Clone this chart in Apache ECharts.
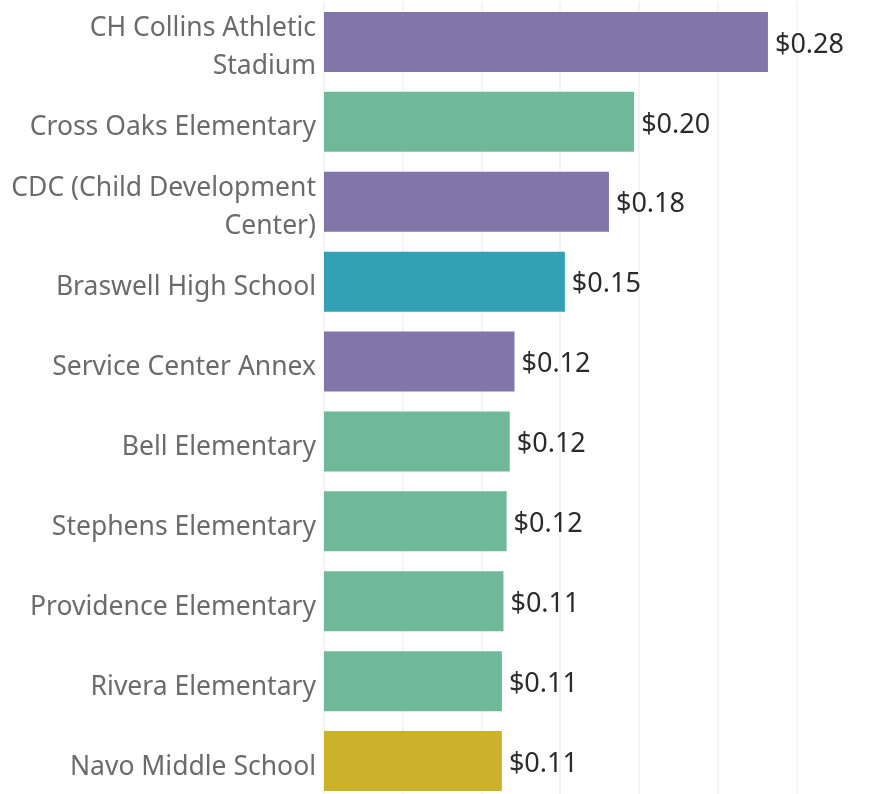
<!DOCTYPE html>
<html>
<head>
<meta charset="utf-8">
<script src="https://cdn.jsdelivr.net/npm/echarts@6/dist/echarts.min.js"></script>
<style>
  html, body { margin: 0; padding: 0; background: #fff; }
  #chart { width: 869px; height: 794px; }
</style>
</head>
<body>
<div id="chart"></div>
<script>
// facility names (top to bottom)
const facilities = [
  "CH Collins Athletic\nStadium",
  "Cross Oaks Elementary",
  "CDC (Child Development\nCenter)",
  "Braswell High School",
  "Service Center Annex",
  "Bell Elementary",
  "Stephens Elementary",
  "Providence Elementary",
  "Rivera Elementary",
  "Navo Middle School"
];
// cost values
const costs = [0.282, 0.197, 0.181, 0.153, 0.121, 0.118, 0.116, 0.114, 0.113, 0.113];
// facility group, drives the bar colour
const groups = ["Other", "Elementary", "Other", "High", "Other", "Elementary", "Elementary", "Elementary", "Elementary", "Middle"];

const groupColors = {
  Other: "#8175aa",
  Elementary: "#6fb899",
  High: "#31a1b3",
  Middle: "#ccb22b"
};

const chart = echarts.init(document.getElementById("chart"));

const option = {
  animation: false,
  textStyle: { fontFamily: "Noto Sans" },
  grid: {
    left: 324,
    top: 2,
    width: 551,
    height: 799,
    containLabel: false,
    outerBoundsMode: "none"
  },
  xAxis: {
    type: "value",
    min: 0,
    max: 0.35,
    interval: 0.05,
    axisLabel: { show: false },
    axisLine: { show: false },
    axisTick: { show: false },
    splitLine: { lineStyle: { color: "#f0f0f0", width: 1.5 } }
  },
  yAxis: {
    type: "category",
    inverse: true,
    data: facilities,
    axisLine: { show: false },
    axisTick: { show: false },
    axisLabel: {
      margin: 8,
      align: "right",
      lineHeight: 38,
      formatter: (v) => v.split("\n").map((s) => "{n|" + s + "}").join("\n"),
      rich: {
        n: {
          color: "#6b6b6b",
          fontFamily: "Noto Sans",
          fontSize: 26.5,
          lineHeight: 38,
          padding: [12, 0, 0, 0]
        }
      }
    }
  },
  series: [
    {
      type: "bar",
      barWidth: 60,
      data: costs.map((v, i) => ({
        value: v,
        itemStyle: { color: groupColors[groups[i]] }
      })),
      label: {
        show: true,
        position: "right",
        distance: 7,
        formatter: (p) => "{v|$" + p.value.toFixed(2) + "}",
        rich: {
          v: {
            color: "#2b2b2b",
            fontFamily: "Noto Sans",
            fontSize: 27,
            padding: [6, 0, 0, 0]
          }
        }
      }
    }
  ]
};

chart.setOption(option);
</script>
</body>
</html>
